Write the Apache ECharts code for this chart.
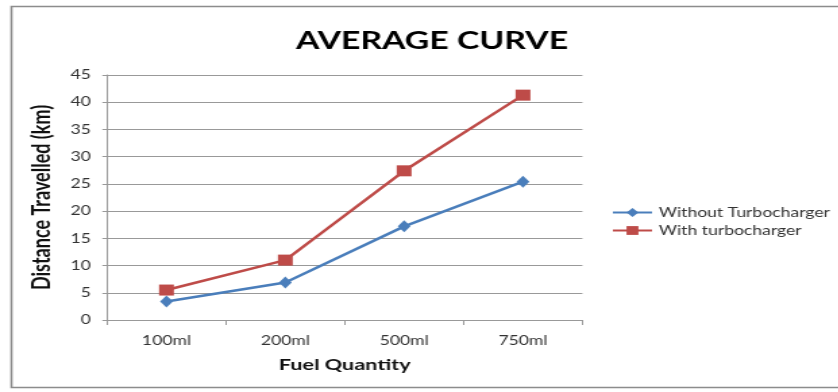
<!DOCTYPE html>
<html><head><meta charset="utf-8">
<script src="https://cdn.jsdelivr.net/npm/echarts@6/dist/echarts.min.js"></script>
<style>
html,body{margin:0;padding:0;background:#fff;overflow:hidden}
#wrap{width:838px;height:392px;overflow:hidden}
#c{width:621px;height:392px;transform:scaleX(1.35);transform-origin:0 0}
</style>
</head><body><div id="wrap"><div id="c"></div></div>
<script>
const categories = ['100ml', '200ml', '500ml', '750ml'];
const withoutTurbo = [3.4, 6.9, 17.2, 25.4];
const withTurbo = [5.5, 11.0, 27.4, 41.3];
const seriesNames = ['Without Turbocharger', 'With turbocharger'];

const chart = echarts.init(document.getElementById('c'));
const font = 'Lato, "Open Sans", sans-serif';
chart.setOption({
  animation: false,
  backgroundColor: '#fff',
  graphic: [{
    type: 'rect', shape: {x: 8.5, y: 6.5, width: 700, height: 381},
    style: {fill: 'none', stroke: '#8c8c8c', lineWidth: 1.6}, silent: true
  }],
  title: {
    text: 'AVERAGE CURVE', left: 315, top: 23, textAlign: 'center',
    textStyle: {fontFamily: font, fontWeight: 'bold', fontSize: 25, color: '#000'}
  },
  legend: {
    orient: 'vertical', left: 453, top: 206, itemGap: 5, padding: 0,
    itemWidth: 29, itemHeight: 11,
    textStyle: {fontFamily: font, fontSize: 13, color: '#333'},
    data: seriesNames
  },
  grid: {left: 79.3, right: 189.6, top: 75, bottom: 72},
  xAxis: {
    type: 'category', data: categories, boundaryGap: true,
    name: 'Fuel Quantity', nameLocation: 'middle', nameGap: 37,
    nameTextStyle: {fontFamily: font, fontWeight: 'bold', fontSize: 16, color: '#111'},
    axisLine: {lineStyle: {color: '#999', width: 1}},
    axisTick: {show: true, alignWithLabel: false, length: 5, lineStyle: {color: '#999'}},
    axisLabel: {fontFamily: font, fontSize: 13, color: '#333', margin: 14}
  },
  yAxis: {
    type: 'value', min: 0, max: 45, interval: 5,
    name: 'Distance Travelled (km)', nameLocation: 'middle', nameGap: 39, nameRotate: 90,
    nameTextStyle: {fontFamily: font, fontWeight: 'bold', fontSize: 18, color: '#111'},
    axisLine: {show: true, lineStyle: {color: '#999', width: 1}},
    axisTick: {show: true, length: 3.5, lineStyle: {color: '#999'}},
    axisLabel: {fontFamily: font, fontSize: 13, color: '#333', margin: 12},
    splitLine: {lineStyle: {color: '#999', width: 1}}
  },
  series: [
    {
      name: seriesNames[0], type: 'line', data: withoutTurbo,
      symbol: 'diamond', symbolSize: [9.5, 12],
      lineStyle: {color: '#4a7ebb', width: 2.5},
      itemStyle: {color: '#4a7ebb'}
    },
    {
      name: seriesNames[1], type: 'line', data: withTurbo,
      symbol: 'rect', symbolSize: [11, 11],
      lineStyle: {color: '#be4b48', width: 2.5},
      itemStyle: {color: '#be4b48'}
    }
  ]
});
</script></body></html>
